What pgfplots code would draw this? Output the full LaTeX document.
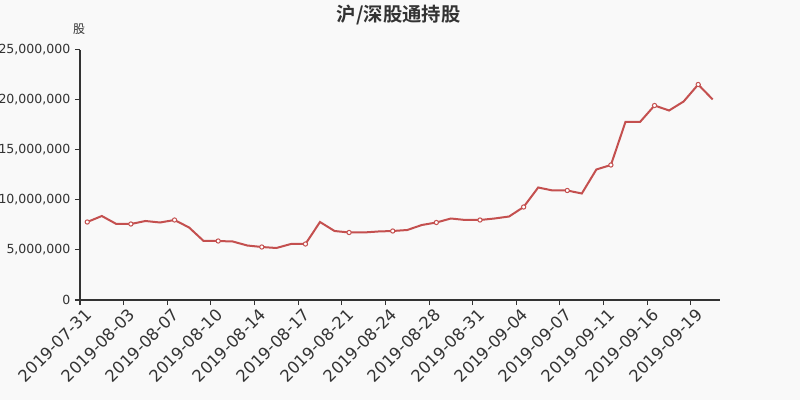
\documentclass[border=0pt]{standalone}
\usepackage{pgfplots}
\pgfplotsset{compat=1.18}
\usepackage{fontspec}
\setmainfont{DejaVu Sans}
\newfontfamily\cjk{Noto Sans CJK SC}
\newfontfamily\cjkbold{Noto Sans CJK SC Bold}
\definecolor{bg}{HTML}{F9F9F9}
\definecolor{txt}{HTML}{333333}
\definecolor{ln}{HTML}{C4504F}

\pgfplotstableread{
i v
0 7800000
1 8400000
2 7600000
3 7600000
4 7900000
5 7750000
6 8000000
7 7250000
8 5900000
9 5900000
10 5850000
11 5450000
12 5300000
13 5200000
14 5600000
15 5600000
16 7800000
17 6900000
18 6750000
19 6750000
20 6850000
21 6900000
22 7000000
23 7500000
24 7750000
25 8150000
26 8000000
27 8000000
28 8150000
29 8350000
30 9300000
31 11250000
32 10950000
33 10950000
34 10650000
35 13050000
36 13500000
37 17800000
38 17800000
39 19450000
40 18950000
41 19850000
42 21550000
43 20050000
}\holding

\begin{document}
\begin{tikzpicture}
% 1px = 0.75pt
\fill[bg] (0pt,0pt) rectangle (600pt,300pt);
\useasboundingbox (0pt,0pt) rectangle (600pt,300pt);
\node[text=txt,font=\cjkbold\fontsize{14.5pt}{16pt}\selectfont] at (299pt,289pt) {沪/深股通持股};
\node[text=txt,font=\cjk\fontsize{9pt}{10pt}\selectfont] at (59.25pt,278.25pt) {股};
\begin{axis}[
  at={(60pt,75pt)}, anchor=south west,
  scale only axis,
  width=480pt, height=187.5pt,
  xmin=-0.5, xmax=43.5,
  ymin=0, ymax=25000000,
  axis x line*=bottom, axis y line*=left,
  axis line style={txt, line width=0.75pt},
  every outer x axis line/.append style={-},
  every outer y axis line/.append style={-},
  xtick={0,3,...,42},
  xticklabels={2019-07-31,2019-08-03,2019-08-07,2019-08-10,2019-08-14,2019-08-17,2019-08-21,2019-08-24,2019-08-28,2019-08-31,2019-09-04,2019-09-07,2019-09-11,2019-09-16,2019-09-19},
  major x tick style={draw=none},
  minor xtick={-0.5,2.5,...,41.5},
  minor tick length=3.75pt,
  minor x tick style={txt, line width=0.75pt},
  ytick={0,5000000,...,25000000},
  major tick length=3.75pt,
  tick align=outside,
  y tick style={txt, line width=0.75pt},
  scaled y ticks=false,
  /pgf/number format/fixed,
  /pgf/number format/1000 sep={,},
  /pgf/number format/assume math mode=true,
  ticklabel style={text=txt},
  yticklabel style={font=\fontsize{9.4pt}{10pt}\selectfont},
  xticklabel style={font=\fontsize{12.3pt}{14pt}\selectfont, rotate=45, anchor=north east, inner sep=1pt, xshift=-1.7pt, yshift=1.7pt},
  clip=false,
]
\addplot[ln, line width=1.5pt, mark=*, mark repeat=3, mark size=1.6pt,
  mark options={fill=white, draw=ln, line width=0.75pt}] table[x=i, y=v] {\holding};
\end{axis}
\end{tikzpicture}
\end{document}
